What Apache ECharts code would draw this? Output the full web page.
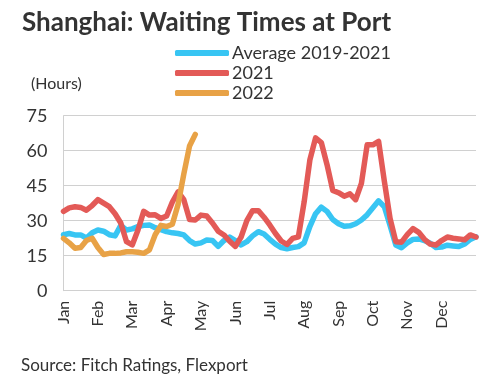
<!DOCTYPE html>
<html>
<head>
<meta charset="utf-8">
<script src="https://cdn.jsdelivr.net/npm/echarts@6/dist/echarts.min.js"></script>
<style>
html,body{margin:0;padding:0;background:#fff;}
#c{width:497px;height:386px;}
</style>
</head>
<body>
<div id="c"></div>
<script>
// Month tick labels (6 points per month + closing point)
var months = ['Jan','Feb','Mar','Apr','May','Jun','Jul','Aug','Sep','Oct','Nov','Dec'];
var pointsPerMonth = 6;

// Series names
var seriesNames = ['Average 2019-2021', '2021', '2022'];

// Average 2019-2021 (hours)
var avg = [24, 24.5, 23.9, 23.9, 22.6, 24.8, 26, 25.5, 24, 23.5, 28, 26,
  26.5, 27.5, 28, 28.2, 27, 26.2, 25.3, 24.8, 24.5, 23.9, 21.5, 20,
  20.5, 21.7, 21.5, 19, 21.5, 23, 21.5, 19.6, 21, 23.5, 25.3, 24.3,
  22, 20, 18.5, 18, 18.5, 18.9, 20.5, 27.5, 33, 35.8, 34, 30.5,
  28.7, 27.6, 27.8, 28.7, 30.3, 32.5, 35.5, 38.5, 36, 28, 19.6, 18.4,
  20.5, 22, 22.2, 21.5, 20.3, 18.5, 18.7, 19.5, 19.2, 18.9, 20, 22, 23.1];

// 2021 (hours)
var y2021 = [34, 35.5, 36, 35.7, 34.5, 36.5, 39, 37.5, 36, 33, 29, 21,
  19.6, 26, 34, 32.4, 32.5, 31, 32, 38, 42.4, 39, 30.5, 30.3,
  32.4, 32, 29, 25.5, 23.9, 21.2, 19, 23, 30, 34.3, 34.3, 31.5,
  28.2, 24.5, 21.3, 19.8, 22.4, 23.1, 38, 56, 65.5, 63.5, 54, 43,
  42, 40.5, 41.5, 39, 46, 62.5, 62.5, 64, 47, 31, 21, 20.8,
  24, 26.6, 25, 22, 20, 19.6, 21.5, 23, 22.5, 22.2, 21.8, 23.9, 23];

// 2022 (hours)
var y2022 = [22.4, 20.5, 18.2, 18.5, 21.5, 22.5, 18.5, 15.5, 16, 16, 16.2, 16.7,
  16.7, 16.5, 16, 17.5, 24, 28, 27.5, 28.5, 37, 50, 62, 67];

// Y axis ticks
var yMin = 0, yMax = 75, yStep = 15;

var categories = [];
for (var m = 0; m < months.length; m++) {
  for (var k = 0; k < pointsPerMonth; k++) categories.push(months[m] + '|' + k);
}
categories.push('End|0');

var chart = echarts.init(document.getElementById('c'), null, {renderer: 'canvas'});
var font = 'Lato, "Open Sans", sans-serif';
chart.setOption({
  animation: false,
  backgroundColor: '#fff',
  title: {
    text: 'Shanghai: Waiting Times at Port',
    left: 17, top: 5,
    textStyle: {fontFamily: font, fontSize: 26, fontWeight: 'bold', color: '#333333'}
  },
  graphic: [
    {type: 'text', left: 31, top: 76, style: {text: '(Hours)', fontFamily: font, fontSize: 16, fill: '#333333'}},
    {type: 'text', left: 21, top: 357, style: {text: 'Source: Fitch Ratings, Flexport', fontFamily: font, fontSize: 17, fill: '#333333'}}
  ],
  legend: {
    orient: 'vertical',
    left: 170, top: 39,
    itemWidth: 54, itemHeight: 6, itemGap: 2,
    icon: 'roundRect',
    textStyle: {fontFamily: font, fontSize: 18, color: '#333333', padding: [0,0,0,-2]},
    data: seriesNames
  },
  grid: {left: 63.5, right: 21, top: 115.7, bottom: 95.3, containLabel: false},
  xAxis: {
    type: 'category',
    data: categories,
    boundaryGap: false,
    axisLine: {show: true, lineStyle: {color: '#d0d0d0', width: 1}},
    axisTick: {show: false},
    splitLine: {show: false},
    axisLabel: {
      interval: function (idx) { return idx % pointsPerMonth === 0 && idx < months.length * pointsPerMonth; },
      rotate: 90,
      margin: 10,
      fontFamily: font, fontSize: 16, color: '#333333',
      formatter: function (v) { return v.split('|')[0]; }
    }
  },
  yAxis: {
    type: 'value',
    min: yMin, max: yMax, interval: yStep,
    axisLine: {show: true, lineStyle: {color: '#d0d0d0', width: 1}},
    axisTick: {show: false},
    splitLine: {show: true, lineStyle: {color: '#d0d0d0', width: 1}},
    axisLabel: {fontFamily: font, fontSize: 18, color: '#333333', margin: 16}
  },
  series: [
    {name: seriesNames[0], type: 'line', data: avg, showSymbol: false, symbol: 'none',
      lineStyle: {width: 5.5, color: '#38C5F3', cap: 'round', join: 'round'}, itemStyle: {color: '#38C5F3'}},
    {name: seriesNames[1], type: 'line', data: y2021, showSymbol: false, symbol: 'none',
      lineStyle: {width: 5.5, color: '#E35A57', cap: 'round', join: 'round'}, itemStyle: {color: '#E35A57'}},
    {name: seriesNames[2], type: 'line', data: y2022, showSymbol: false, symbol: 'none',
      lineStyle: {width: 5.5, color: '#E8A246', cap: 'round', join: 'round'}, itemStyle: {color: '#E8A246'}}
  ]
});
</script>
</body>
</html>
